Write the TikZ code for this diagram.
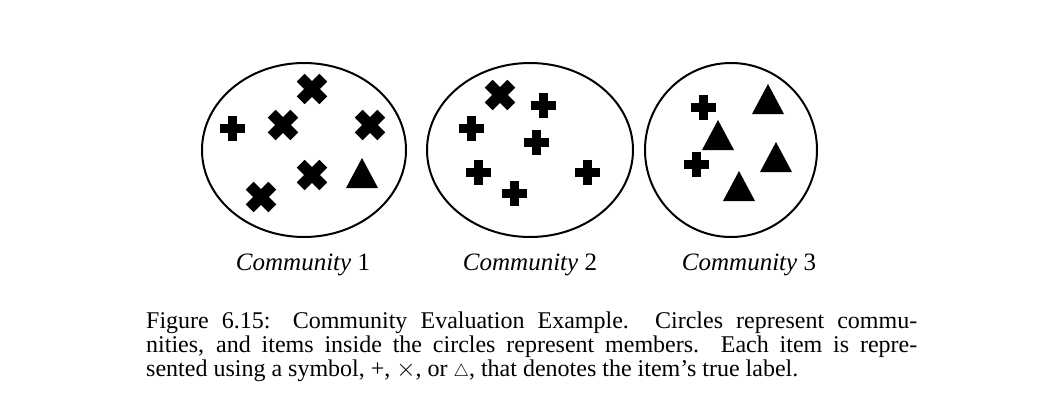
\documentclass[tikz,border=0pt]{standalone}
\usepackage{fontspec}
\setmainfont{Liberation Serif}
\begin{document}
\begin{tikzpicture}[x=1pt,y=-1pt,
  comm/.style={draw,line width=2pt},
  lab/.style={font=\fontsize{25}{28}\selectfont},
  pl/.pic={\fill (-12.5,-4.5) rectangle (12.5,4.5); \fill (-4.5,-12.5) rectangle (4.5,12.5);},
  xx/.pic={\begin{scope}[rotate=45]\fill (-16,-5.5) rectangle (16,5.5); \fill (-5.5,-16) rectangle (5.5,16);\end{scope}},
  tr/.pic={\fill (-16,15) -- (16,15) -- (0,-15) -- cycle;}]
\useasboundingbox (0,0) rectangle (1062,412);
\draw[comm] (304,150) ellipse [x radius=102, y radius=87];
\draw[comm] (530,150) ellipse [x radius=103, y radius=87];
\draw[comm] (731,150) ellipse [x radius=86, y radius=87];
\pic at (232,128) {pl};
\foreach \p in {(312,89),(283,125),(370,125),(312,175),(261,197)} \pic at \p {xx};
\pic at (362,173) {tr};
\pic at (500,95) {xx};
\foreach \p in {(543,105),(471,128),(536,142),(478,172),(514,193),(587,172)} \pic at \p {pl};
\pic at (703,107) {pl}; \pic at (696,164) {pl};
\foreach \p in {(768,99),(718,135),(776,157),(739,186)} \pic at \p {tr};
\node[lab] (l1) at (303,265) {\textit{Community} 1};
\node[lab] (l2) at (530,265) {\textit{Community} 2};
\node[lab] (l3) at (749,265) {\textit{Community} 3};
\node[anchor=north west,inner sep=0pt,font=\fontsize{24}{24}\selectfont,align=left] (cap) at (146,312) {%
\makebox[771pt][s]{Figure 6.15: Community Evaluation Example.\ \ Circles represent commu-}\\
\makebox[771pt][s]{nities, and items inside the circles represent members.\ \ Each item is repre-}\\
sented using a symbol, +, $\times$, or $\scriptstyle\triangle$, that denotes the item’s true label.};
\end{tikzpicture}
\end{document}
